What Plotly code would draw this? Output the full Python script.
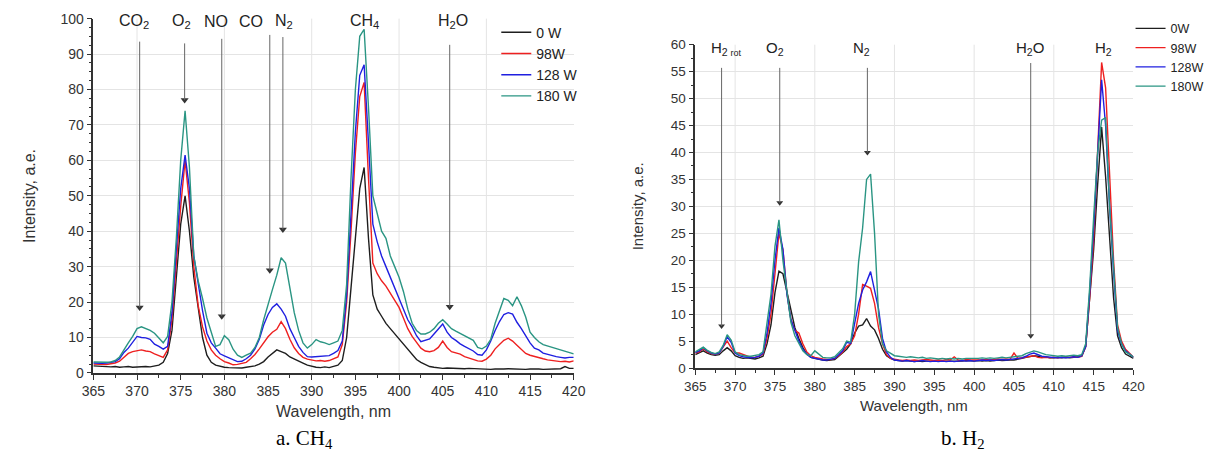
import plotly.graph_objects as go

W, H = 1220, 463

# ---------------- data ----------------
WAVELENGTH = [365 + 0.5 * i for i in range(111)]  # 365 ... 420 nm sampling grid

# Panel a: CH4
CH4_0W = [2.0, 1.9, 1.8, 1.9, 1.7, 1.8, 1.6, 1.7, 1.8, 1.6,
          1.7, 1.6, 1.8, 1.7, 1.9, 2.2, 3.0, 5.5, 12.0, 26.0,
          42.0, 50.0, 40.0, 27.0, 18.0, 10.0, 5.0, 3.0, 2.2, 1.8,
          1.6, 1.5, 1.4, 1.5, 1.4, 1.6, 1.7, 2.0, 2.5, 3.2,
          4.5, 5.5, 6.5, 6.0, 5.5, 4.5, 4.0, 3.3, 2.8, 2.2,
          1.8, 1.6, 1.5, 1.7, 1.5, 1.8, 2.2, 3.5, 10.0, 24.0,
          38.0, 52.0, 58.0, 38.0, 22.0, 18.0, 16.0, 14.0, 12.5, 11.0,
          9.5, 8.0, 6.5, 5.0, 3.8, 3.0, 2.3, 1.8, 1.6, 1.4,
          1.3, 1.4, 1.3, 1.2, 1.3, 1.2, 1.3, 1.2, 1.1, 1.2,
          1.1, 1.0, 1.1, 1.0, 1.1, 1.2, 1.1, 1.2, 1.1, 1.0,
          1.1, 1.2, 1.1, 1.0, 1.1, 1.2, 1.1, 1.2, 1.8, 1.3,
          1.3]
CH4_98W = [2.5, 2.4, 2.3, 2.4, 2.6, 2.8, 3.3, 4.5, 5.5, 6.0,
           6.3, 6.5, 6.2, 6.0, 5.4, 5.0, 4.4, 6.5, 15.0, 31.0,
           47.0, 60.0, 48.0, 30.0, 19.0, 13.0, 9.0, 6.5, 5.0, 4.0,
           3.2, 2.8, 2.3, 2.4, 2.6, 3.0, 4.0, 5.2, 6.8, 8.5,
           10.2, 11.5, 12.3, 14.5, 12.5, 9.5, 7.1, 5.5, 4.4, 3.9,
           3.6, 3.4, 3.5, 3.3, 3.5, 4.0, 4.5, 8.0, 20.0, 40.0,
           62.0, 78.0, 82.0, 55.0, 31.0, 28.0, 26.0, 24.5, 22.5, 20.5,
           18.5, 15.5, 12.5, 10.3, 8.5, 7.0, 6.2, 6.0, 6.3, 7.2,
           9.0, 7.2, 6.0, 5.6, 5.3, 4.6, 4.2, 3.8, 3.4, 3.3,
           3.9, 5.0, 6.8, 8.0, 9.2, 9.8, 9.0, 7.8, 6.5, 5.5,
           5.0, 4.6, 4.4, 4.0, 3.7, 3.5, 3.4, 3.2, 3.3, 3.1,
           3.4]
CH4_128W = [2.8, 2.7, 2.7, 2.8, 2.9, 3.2, 4.0, 5.8, 7.0, 8.5,
            10.3, 10.0, 9.9, 9.5, 8.1, 7.5, 6.7, 7.5, 17.0, 35.0,
            52.0, 61.5, 52.0, 33.0, 25.0, 17.6, 11.2, 8.5, 7.0, 5.4,
            4.8, 4.2, 3.6, 3.2, 3.3, 4.0, 5.0, 6.8, 9.5, 13.5,
            16.5, 18.5, 19.5, 18.0, 16.0, 12.5, 10.0, 7.5, 5.8, 4.6,
            4.5, 4.6, 4.9, 4.8, 4.9, 5.5, 6.3, 9.0, 22.0, 45.0,
            68.0, 84.0, 87.0, 65.0, 42.0, 37.0, 33.0, 30.0, 27.0, 24.0,
            21.0, 18.0, 15.0, 13.0, 10.5, 8.8, 9.2, 9.6, 11.0, 12.5,
            13.8, 11.5, 10.0, 9.2, 8.2, 7.5, 6.8, 6.2, 5.2, 5.0,
            6.5, 9.0, 12.0, 14.5, 16.5, 17.0, 16.6, 14.3, 12.5, 10.5,
            8.5, 7.0, 6.5, 5.6, 5.2, 4.9, 4.6, 4.4, 4.2, 4.4,
            4.4]
CH4_180W = [3.1, 3.0, 3.1, 3.0, 3.1, 3.5, 4.5, 6.7, 8.5, 10.3,
            12.5, 13.0, 12.5, 12.0, 11.2, 10.0, 8.5, 10.3, 20.0, 38.0,
            60.0, 74.0, 58.0, 33.0, 26.0, 21.0, 15.5, 11.5, 7.5, 8.0,
            10.5, 9.4, 6.7, 5.0, 4.4, 5.0, 5.6, 7.2, 10.0, 15.0,
            19.5, 23.5, 27.6, 32.5, 31.0, 24.5, 17.0, 12.0, 8.5, 7.0,
            8.0, 9.4, 8.8, 8.5, 8.0, 8.5, 9.0, 12.0, 25.0, 55.0,
            80.0, 95.0, 97.0, 75.0, 50.0, 45.0, 40.0, 38.0, 33.0, 30.0,
            27.0, 23.0, 18.0, 14.0, 12.0, 11.0, 11.0, 11.5, 12.5, 14.0,
            15.0, 13.8, 12.5, 11.8, 11.2, 10.5, 9.8, 9.2, 7.2, 6.8,
            7.6, 9.5, 14.0, 17.5, 21.0, 20.5, 19.0, 21.5, 19.0, 15.8,
            11.5, 10.0, 8.8, 8.0, 7.6, 7.2, 6.9, 6.5, 6.2, 5.8,
            5.4]

# Panel b: H2
H2_0W = [2.5, 2.8, 3.2, 2.8, 2.5, 2.4, 2.5, 3.2, 3.8, 3.2,
         2.3, 2.0, 1.8, 1.9, 1.8, 1.7, 1.9, 2.2, 4.5, 8.0,
         14.0, 18.0, 17.5, 14.0, 10.5, 7.5, 5.5, 3.8, 2.6, 2.0,
         1.8, 1.6, 1.5, 1.4, 1.5, 1.6, 2.2, 2.8, 3.5, 4.5,
         6.5, 7.8, 8.0, 9.2, 7.8, 7.1, 5.5, 3.5, 2.3, 1.8,
         1.5, 1.4, 1.3, 1.4, 1.3, 1.2, 1.3, 1.2, 1.3, 1.3,
         1.2, 1.3, 1.2, 1.3, 1.2, 1.3, 1.2, 1.3, 1.4, 1.3,
         1.3, 1.4, 1.3, 1.4, 1.3, 1.4, 1.5, 1.4, 1.5, 1.5,
         1.5, 1.6, 1.8, 2.0, 2.1, 2.3, 2.2, 2.0, 2.1, 1.9,
         1.9, 2.0, 1.9, 2.0, 1.9, 2.0, 2.1, 2.2, 4.0, 12.5,
         22.0, 34.0, 44.7, 35.5, 24.0, 13.0, 6.0, 3.8, 2.6, 2.2,
         1.8]
H2_98W = [2.8, 3.0, 3.6, 3.0, 2.7, 2.6, 2.8, 3.8, 5.0, 3.8,
          2.8, 2.8, 2.5, 2.2, 2.0, 2.0, 2.2, 2.6, 5.5, 10.0,
          18.0, 25.0, 22.0, 14.0, 9.0, 7.0, 6.5, 4.5, 3.0, 2.3,
          2.0, 1.8, 1.7, 1.6, 1.6, 1.8, 2.3, 3.0, 4.0, 4.5,
          6.0, 10.0, 15.5, 15.2, 14.8, 12.0, 7.5, 4.5, 2.5, 1.8,
          1.6, 1.5, 1.4, 1.5, 1.4, 1.5, 1.4, 1.5, 1.6, 1.5,
          1.4, 1.5, 1.4, 1.6, 1.5, 2.1, 1.5, 1.4, 1.6, 1.5,
          1.5, 1.4, 1.5, 1.6, 1.5, 1.6, 1.7, 1.6, 1.7, 1.6,
          2.8, 1.8, 1.9, 2.0, 2.1, 2.3, 2.0, 1.9, 2.0, 1.9,
          2.0, 1.9, 2.0, 2.1, 2.0, 2.1, 2.0, 2.2, 4.0, 13.0,
          24.0, 40.0, 56.7, 52.0, 35.0, 20.0, 8.0, 5.0, 3.5, 2.8,
          2.0]
H2_128W = [2.9, 3.2, 3.8, 3.2, 2.8, 2.6, 2.8, 4.0, 5.8, 4.8,
           2.8, 2.3, 2.1, 2.0, 1.9, 2.0, 2.2, 2.8, 6.5, 12.0,
           20.0, 26.0, 22.0, 13.7, 9.0, 7.0, 5.0, 3.5, 2.6, 2.0,
           1.8, 1.7, 1.5, 1.5, 1.6, 1.8, 2.5, 3.2, 4.8, 4.6,
           8.3, 12.0, 14.5, 16.0, 17.9, 14.5, 11.0, 5.5, 3.0, 2.0,
           1.5, 1.4, 1.3, 1.4, 1.3, 1.2, 1.3, 1.4, 1.3, 1.2,
           1.3, 1.2, 1.3, 1.2, 1.3, 1.2, 1.3, 1.4, 1.3, 1.4,
           1.3, 1.4, 1.5, 1.4, 1.5, 1.4, 1.5, 1.6, 1.5, 1.6,
           1.6, 1.7, 1.9, 2.2, 2.6, 2.8, 2.5, 2.2, 2.1, 2.0,
           2.0, 1.9, 2.0, 1.9, 2.0, 2.1, 2.0, 2.3, 4.0, 14.0,
           26.0, 40.0, 53.5, 45.0, 30.0, 18.0, 7.0, 4.5, 3.2, 2.6,
           2.0]
H2_180W = [3.0, 3.4, 3.9, 3.3, 2.9, 2.7, 3.0, 4.2, 6.2, 5.2,
           3.0, 2.5, 2.3, 2.2, 2.2, 2.3, 2.5, 3.0, 8.9, 13.7,
           22.6, 27.5, 20.0, 13.7, 8.5, 6.0, 4.5, 3.2, 2.5, 2.3,
           3.2, 2.6, 2.0, 1.9, 1.9, 2.1, 2.8, 3.6, 5.0, 4.8,
           10.0, 19.7, 26.0, 35.0, 36.0, 25.0, 10.0, 4.5, 3.2, 2.8,
           2.3, 2.2, 2.1, 2.0, 2.1, 2.0, 1.9, 2.0, 1.8, 1.9,
           1.8, 1.7, 1.8, 1.7, 1.8, 1.7, 1.8, 1.7, 1.8, 1.8,
           1.7, 1.8, 1.9, 1.8, 1.9, 1.8, 1.9, 2.0, 1.9, 2.0,
           2.0, 2.1, 2.3, 2.7, 3.0, 3.2, 3.0, 2.7, 2.5, 2.4,
           2.3, 2.2, 2.3, 2.2, 2.3, 2.4, 2.3, 2.5, 4.5, 15.0,
           28.0, 40.0, 46.0, 46.5, 30.0, 18.0, 7.5, 4.5, 3.0, 2.6,
           2.0]

LEFT_NAMES = ["0 W", "98W", "128 W", "180 W"]
RIGHT_NAMES = ["0W", "98W", "128W", "180W"]
COLORS = ["#1e1e1e", "#ee2020", "#1f1fe0", "#2a9583"]

# line-marker pointers (wavelength, pointer top value, pointer tip value)
LEFT_MARK_LAM = [370.3, 375.45, 379.7, 385.2, 386.7, 405.8]
LEFT_MARK_TOP = [93.5, 93.0, 94.3, 95.4, 94.8, 92.6]
LEFT_MARK_TIP = [18.5, 77.0, 16.0, 29.0, 40.5, 18.7]
LEFT_LABELS = ["CO<sub>2</sub>", "O<sub>2</sub>", "NO", "CO", "N<sub>2</sub>", "CH<sub>4</sub>", "H<sub>2</sub>O"]
LEFT_LABEL_X = [369.7, 375.1, 379.0, 383.0, 386.8, 396.0, 406.2]

RIGHT_MARK_LAM = [368.3, 375.6, 386.6, 407.1]
RIGHT_MARK_TOP = [55.7, 55.7, 55.7, 56.6]
RIGHT_MARK_TIP = [7.8, 30.7, 40.0, 6.0]
RIGHT_LABELS = ["H<sub>2 <span style='font-size:9px'>rot</span></sub>", "O<sub>2</sub>", "N<sub>2</sub>",
                "H<sub>2</sub>O", "H<sub>2</sub>"]
RIGHT_LABEL_X = [368.9, 375.0, 385.9, 407.0, 416.2]

X_GRID = [370, 380, 390, 400, 410]

# ---------------- figure ----------------
fig = go.Figure()

left_series = [CH4_0W, CH4_98W, CH4_128W, CH4_180W]
right_series = [H2_0W, H2_98W, H2_128W, H2_180W]

for name, ys, c in zip(LEFT_NAMES, left_series, COLORS):
    fig.add_trace(go.Scatter(x=WAVELENGTH, y=ys, mode="lines", name=name,
                             line=dict(color=c, width=1.4), xaxis="x", yaxis="y",
                             legend="legend"))
for name, ys, c in zip(RIGHT_NAMES, right_series, COLORS):
    fig.add_trace(go.Scatter(x=WAVELENGTH, y=ys, mode="lines", name=name,
                             line=dict(color=c, width=1.4), xaxis="x2", yaxis="y2",
                             legend="legend2"))

# pointer arrowheads (triangles at the tips)
fig.add_trace(go.Scatter(x=LEFT_MARK_LAM, y=LEFT_MARK_TIP, mode="markers", xaxis="x", yaxis="y",
                         marker=dict(symbol="triangle-down", size=7, color="#333"),
                         showlegend=False, hoverinfo="skip"))
fig.add_trace(go.Scatter(x=RIGHT_MARK_LAM, y=RIGHT_MARK_TIP, mode="markers", xaxis="x2", yaxis="y2",
                         marker=dict(symbol="triangle-down", size=6, color="#333"),
                         showlegend=False, hoverinfo="skip"))

def px_x(p):
    return p / W

def px_y(p):
    return 1 - p / H

AX_COLOR = "#333333"
TICK_FONT = dict(family="Arial, Liberation Sans, sans-serif", size=14, color="#333333")
TICK_FONT_R = dict(family="Arial, Liberation Sans, sans-serif", size=13.5, color="#333333")
GRID = "#e4e4e4"

common_x = dict(range=[365, 420], dtick=5, tick0=365, ticks="outside", ticklen=5, tickwidth=1.2,
                tickcolor=AX_COLOR, showline=True, linecolor=AX_COLOR, linewidth=1.5,
                showgrid=False, zeroline=False,
                minor=dict(dtick=2.5, ticks="outside", ticklen=3, tickcolor=AX_COLOR))
fig.update_layout(
    width=W, height=H,
    margin=dict(l=0, r=0, t=0, b=0),
    paper_bgcolor="white", plot_bgcolor="white",
    xaxis=dict(domain=[px_x(83), px_x(573)], anchor="y", tickfont=TICK_FONT, **common_x),
    yaxis=dict(domain=[px_y(378), px_y(11)], anchor="x", range=[0, 100], dtick=10,
               ticks="outside", ticklen=5, tickwidth=1.2, tickcolor=AX_COLOR,
               showline=True, linecolor=AX_COLOR, linewidth=1.5, tickfont=TICK_FONT,
               showgrid=True, gridcolor=GRID, gridwidth=1, zeroline=False,
               minor=dict(dtick=2.5, ticks="outside", ticklen=3, tickcolor=AX_COLOR)),
    xaxis2=dict(domain=[px_x(697), px_x(1144)], anchor="y2", tickfont=TICK_FONT_R, **common_x),
    yaxis2=dict(domain=[px_y(373), px_y(38)], anchor="x2", range=[0, 60], dtick=5,
                ticks="outside", ticklen=5, tickwidth=1.2, tickcolor=AX_COLOR,
                showline=True, linecolor=AX_COLOR, linewidth=1.5, tickfont=TICK_FONT_R,
                showgrid=True, gridcolor=GRID, gridwidth=1, zeroline=False,
                minor=dict(dtick=2.5, ticks="outside", ticklen=3, tickcolor=AX_COLOR)),
    legend=dict(x=px_x(494), y=px_y(9), xanchor="left", yanchor="top",
                bgcolor="rgba(0,0,0,0)", font=dict(family="Arial, Liberation Sans, sans-serif",
                                                  size=14, color="#222"),
                itemwidth=30, tracegroupgap=0),
    legend2=dict(x=px_x(1141), y=px_y(6), xanchor="left", yanchor="top",
                 bgcolor="rgba(0,0,0,0)", font=dict(family="Arial, Liberation Sans, sans-serif",
                                                   size=12.5, color="#222"),
                 itemwidth=30, tracegroupgap=0),
    showlegend=True,
)

shapes = []
for gx in X_GRID:
    for xr, yr in (("x", "y domain"), ("x2", "y2 domain")):
        shapes.append(dict(type="line", xref=xr, yref=yr, x0=gx, x1=gx, y0=0, y1=1,
                           line=dict(color=GRID, width=1), layer="below"))
# pointer shafts
for lam, top, tip in zip(LEFT_MARK_LAM, LEFT_MARK_TOP, LEFT_MARK_TIP):
    shapes.append(dict(type="line", xref="x", yref="y", x0=lam, x1=lam, y0=top, y1=tip,
                       line=dict(color="#666", width=1)))
for lam, top, tip in zip(RIGHT_MARK_LAM, RIGHT_MARK_TOP, RIGHT_MARK_TIP):
    shapes.append(dict(type="line", xref="x2", yref="y2", x0=lam, x1=lam, y0=top, y1=tip,
                       line=dict(color="#666", width=1)))
fig.update_layout(shapes=shapes)

ann = []
LBL_FONT = dict(family="Arial, Liberation Sans, sans-serif", size=16, color="#222")
LBL_FONT_R = dict(family="Arial, Liberation Sans, sans-serif", size=15, color="#222")
for t, lx in zip(LEFT_LABELS, LEFT_LABEL_X):
    ann.append(dict(x=lx, y=99.2, xref="x", yref="y", text=t, showarrow=False,
                    font=LBL_FONT, xanchor="center", yanchor="middle"))
for t, lx in zip(RIGHT_LABELS, RIGHT_LABEL_X):
    ann.append(dict(x=lx, y=59.2, xref="x2", yref="y2", text=t, showarrow=False,
                    font=LBL_FONT_R, xanchor="center", yanchor="middle"))

TITLE_FONT = dict(family="Arial, Liberation Sans, sans-serif", size=16, color="#333")
TITLE_FONT_R = dict(family="Arial, Liberation Sans, sans-serif", size=15, color="#333")
ann.append(dict(x=px_x(328), y=px_y(418), xref="paper", yref="paper", text="Wavelength, nm",
                showarrow=False, font=TITLE_FONT, xanchor="center", yanchor="middle"))
ann.append(dict(x=px_x(18), y=px_y(195), xref="paper", yref="paper", text="Intensity, a.e.",
                showarrow=False, font=TITLE_FONT, textangle=-90, xanchor="center", yanchor="middle"))
ann.append(dict(x=px_x(920), y=px_y(412), xref="paper", yref="paper", text="Wavelength, nm",
                showarrow=False, font=TITLE_FONT_R, xanchor="center", yanchor="middle"))
ann.append(dict(x=px_x(638), y=px_y(205), xref="paper", yref="paper", text="Intensity, a.e.",
                showarrow=False, font=TITLE_FONT_R, textangle=-90, xanchor="center", yanchor="middle"))

CAP_FONT = dict(family="Liberation Serif, Times New Roman, serif", size=21, color="#000")
ann.append(dict(x=px_x(298), y=px_y(446), xref="paper", yref="paper", text="a. CH<sub>4</sub>",
                showarrow=False, font=CAP_FONT, xanchor="center", yanchor="middle"))
ann.append(dict(x=px_x(970), y=px_y(446), xref="paper", yref="paper", text="b. H<sub>2</sub>",
                showarrow=False, font=CAP_FONT, xanchor="center", yanchor="middle"))

fig.update_layout(annotations=ann)

fig.write_html("out.html")
